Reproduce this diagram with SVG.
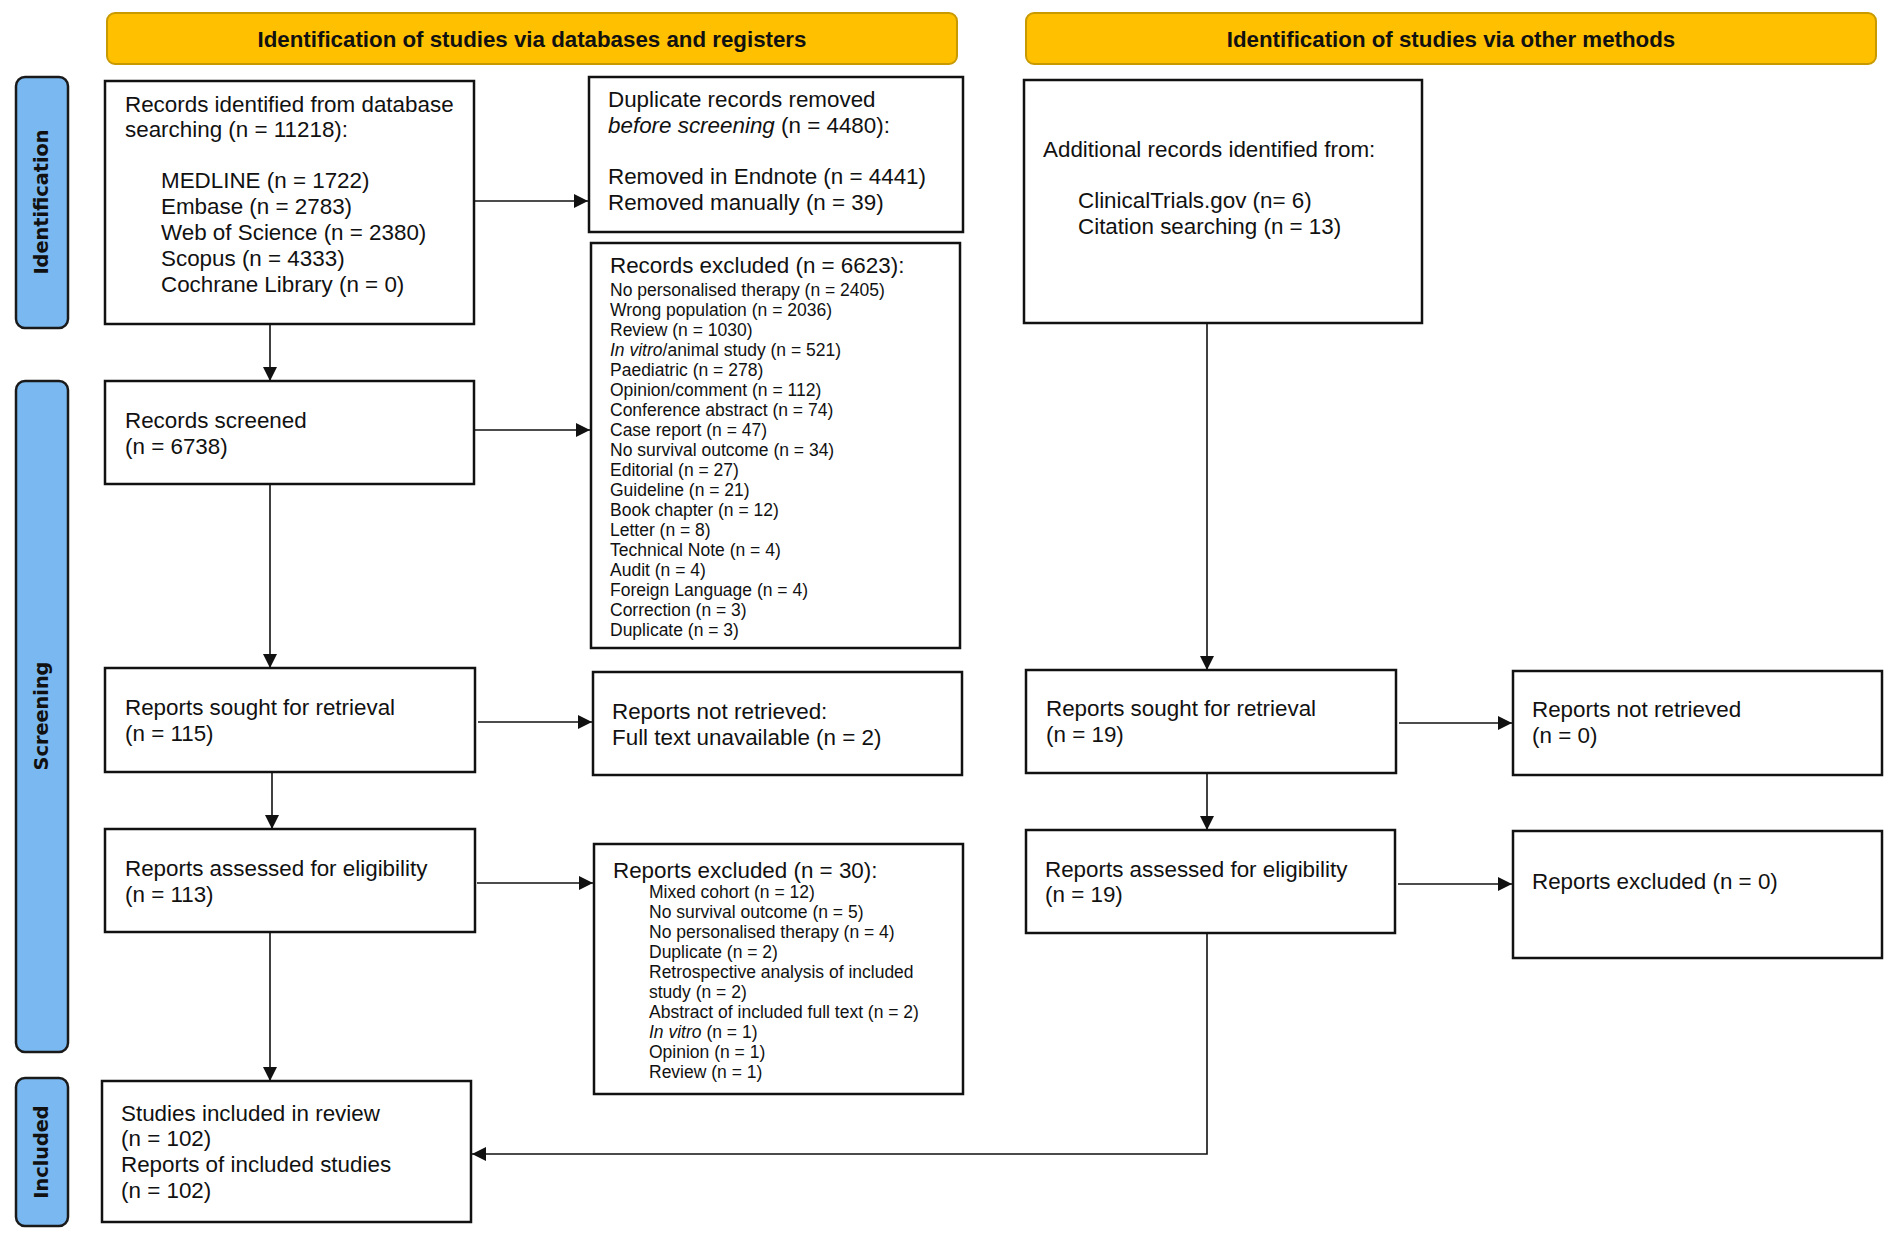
<svg xmlns="http://www.w3.org/2000/svg" width="1902" height="1244" viewBox="0 0 1902 1244">
<style>
.bg{fill:#fff}
.box{fill:#fff;stroke:#111;stroke-width:2.5}
.hdr{fill:#FFC000;stroke:#C99A00;stroke-width:2}
.side{fill:#7AB8F2;stroke:#1a1a1a;stroke-width:2.5}
text{font-family:"Liberation Sans",Arial,sans-serif;fill:#111}
.t{font-size:22.4px}
.s{font-size:17.5px}
.h{font-size:22.3px;font-weight:bold;text-anchor:middle}
.v{font-family:"DejaVu Sans",Verdana,sans-serif;font-size:19.3px;font-weight:bold;text-anchor:middle}
.c{stroke:#111;stroke-width:1.6;fill:none}
</style>
<defs>
<marker id="arr" viewBox="0 0 14 14" refX="14" refY="7" markerWidth="14" markerHeight="14" markerUnits="userSpaceOnUse" orient="auto">
<path d="M0,0 L14,7 L0,14 z" fill="#111"/>
</marker>
</defs>
<rect class="bg" x="0" y="0" width="1902" height="1244"/>

<g id="header-databases">
<rect class="hdr" x="107" y="13" width="850" height="51" rx="8"/>
<text class="h" x="532" y="47">Identification of studies via databases and registers</text>
</g>
<g id="header-other">
<rect class="hdr" x="1026" y="13" width="850" height="51" rx="8"/>
<text class="h" x="1451" y="47">Identification of studies via other methods</text>
</g>

<g id="label-identification">
<rect class="side" x="16" y="77" width="52" height="251" rx="9"/>
<text class="v" transform="translate(48,202) rotate(-90)">Identification</text>
</g>
<g id="label-screening">
<rect class="side" x="16" y="381" width="52" height="671" rx="9"/>
<text class="v" transform="translate(48,716) rotate(-90)">Screening</text>
</g>
<g id="label-included">
<rect class="side" x="16" y="1078" width="52" height="148" rx="9"/>
<text class="v" transform="translate(48,1152) rotate(-90)">Included</text>
</g>

<g id="records-identified">
<rect class="box" x="105" y="81" width="369" height="243"/>
<text class="t" x="125" y="112">Records identified from database</text>
<text class="t" x="125" y="137">searching (n = 11218):</text>
<text class="t" x="161" y="188">MEDLINE (n = 1722)</text>
<text class="t" x="161" y="214">Embase (n = 2783)</text>
<text class="t" x="161" y="240">Web of Science (n = 2380)</text>
<text class="t" x="161" y="266">Scopus (n = 4333)</text>
<text class="t" x="161" y="292">Cochrane Library (n = 0)</text>
</g>

<g id="duplicates-removed">
<rect class="box" x="589" y="77" width="374" height="155"/>
<text class="t" x="608" y="107">Duplicate records removed</text>
<text class="t" x="608" y="133"><tspan font-style="italic">before screening</tspan> (n = 4480):</text>
<text class="t" x="608" y="184">Removed in Endnote (n = 4441)</text>
<text class="t" x="608" y="210">Removed manually (n = 39)</text>
</g>

<g id="records-excluded">
<rect class="box" x="591" y="243" width="369" height="405"/>
<text class="t" x="610" y="273">Records excluded (n = 6623):</text>
<text class="s" x="610" y="296">No personalised therapy (n = 2405)</text>
<text class="s" x="610" y="316">Wrong population (n = 2036)</text>
<text class="s" x="610" y="336">Review (n = 1030)</text>
<text class="s" x="610" y="356"><tspan font-style="italic">In vitro</tspan>/animal study (n = 521)</text>
<text class="s" x="610" y="376">Paediatric (n = 278)</text>
<text class="s" x="610" y="396">Opinion/comment (n = 112)</text>
<text class="s" x="610" y="416">Conference abstract (n = 74)</text>
<text class="s" x="610" y="436">Case report (n = 47)</text>
<text class="s" x="610" y="456">No survival outcome (n = 34)</text>
<text class="s" x="610" y="476">Editorial (n = 27)</text>
<text class="s" x="610" y="496">Guideline (n = 21)</text>
<text class="s" x="610" y="516">Book chapter (n = 12)</text>
<text class="s" x="610" y="536">Letter (n = 8)</text>
<text class="s" x="610" y="556">Technical Note (n = 4)</text>
<text class="s" x="610" y="576">Audit (n = 4)</text>
<text class="s" x="610" y="596">Foreign Language (n = 4)</text>
<text class="s" x="610" y="616">Correction (n = 3)</text>
<text class="s" x="610" y="636">Duplicate (n = 3)</text>
</g>

<g id="records-screened">
<rect class="box" x="105" y="381" width="369" height="103"/>
<text class="t" x="125" y="428">Records screened</text>
<text class="t" x="125" y="454">(n = 6738)</text>
</g>

<g id="reports-sought">
<rect class="box" x="105" y="668" width="370" height="104"/>
<text class="t" x="125" y="715">Reports sought for retrieval</text>
<text class="t" x="125" y="741">(n = 115)</text>
</g>

<g id="reports-not-retrieved">
<rect class="box" x="593" y="672" width="369" height="103"/>
<text class="t" x="612" y="719">Reports not retrieved:</text>
<text class="t" x="612" y="745">Full text unavailable (n = 2)</text>
</g>

<g id="reports-assessed">
<rect class="box" x="105" y="829" width="370" height="103"/>
<text class="t" x="125" y="876">Reports assessed for eligibility</text>
<text class="t" x="125" y="902">(n = 113)</text>
</g>

<g id="reports-excluded">
<rect class="box" x="594" y="844" width="369" height="250"/>
<text class="t" x="613" y="878">Reports excluded (n = 30):</text>
<text class="s" x="649" y="898">Mixed cohort (n = 12)</text>
<text class="s" x="649" y="918">No survival outcome (n = 5)</text>
<text class="s" x="649" y="938">No personalised therapy (n = 4)</text>
<text class="s" x="649" y="958">Duplicate (n = 2)</text>
<text class="s" x="649" y="978">Retrospective analysis of included</text>
<text class="s" x="649" y="998">study (n = 2)</text>
<text class="s" x="649" y="1018">Abstract of included full text (n = 2)</text>
<text class="s" x="649" y="1038"><tspan font-style="italic">In vitro</tspan> (n = 1)</text>
<text class="s" x="649" y="1058">Opinion (n = 1)</text>
<text class="s" x="649" y="1078">Review (n = 1)</text>
</g>

<g id="studies-included">
<rect class="box" x="102" y="1081" width="369" height="141"/>
<text class="t" x="121" y="1121">Studies included in review</text>
<text class="t" x="121" y="1146">(n = 102)</text>
<text class="t" x="121" y="1172">Reports of included studies</text>
<text class="t" x="121" y="1198">(n = 102)</text>
</g>

<g id="additional-records">
<rect class="box" x="1024" y="80" width="398" height="243"/>
<text class="t" x="1043" y="157">Additional records identified from:</text>
<text class="t" x="1078" y="208">ClinicalTrials.gov (n= 6)</text>
<text class="t" x="1078" y="234">Citation searching (n = 13)</text>
</g>

<g id="other-reports-sought">
<rect class="box" x="1026" y="670" width="370" height="103"/>
<text class="t" x="1046" y="716">Reports sought for retrieval</text>
<text class="t" x="1046" y="742">(n = 19)</text>
</g>

<g id="other-reports-not-retrieved">
<rect class="box" x="1513" y="671" width="369" height="104"/>
<text class="t" x="1532" y="717">Reports not retrieved</text>
<text class="t" x="1532" y="743">(n = 0)</text>
</g>

<g id="other-reports-assessed">
<rect class="box" x="1026" y="830" width="369" height="103"/>
<text class="t" x="1045" y="877">Reports assessed for eligibility</text>
<text class="t" x="1045" y="902">(n = 19)</text>
</g>

<g id="other-reports-excluded">
<rect class="box" x="1513" y="831" width="369" height="127"/>
<text class="t" x="1532" y="889">Reports excluded (n = 0)</text>
</g>

<g id="connectors">
<path class="c" marker-end="url(#arr)" d="M270,324 V381"/>
<path class="c" marker-end="url(#arr)" d="M474,201 H588"/>
<path class="c" marker-end="url(#arr)" d="M474,430 H590"/>
<path class="c" marker-end="url(#arr)" d="M270,484 V668"/>
<path class="c" marker-end="url(#arr)" d="M478,722 H592"/>
<path class="c" marker-end="url(#arr)" d="M272,772 V829"/>
<path class="c" marker-end="url(#arr)" d="M477,883 H593"/>
<path class="c" marker-end="url(#arr)" d="M270,932 V1081"/>
<path class="c" marker-end="url(#arr)" d="M1207,323 V670"/>
<path class="c" marker-end="url(#arr)" d="M1399,723 H1512"/>
<path class="c" marker-end="url(#arr)" d="M1207,773 V830"/>
<path class="c" marker-end="url(#arr)" d="M1398,884 H1512"/>
<path class="c" marker-end="url(#arr)" d="M1207,933 V1154 H472"/>
</g>
</svg>
